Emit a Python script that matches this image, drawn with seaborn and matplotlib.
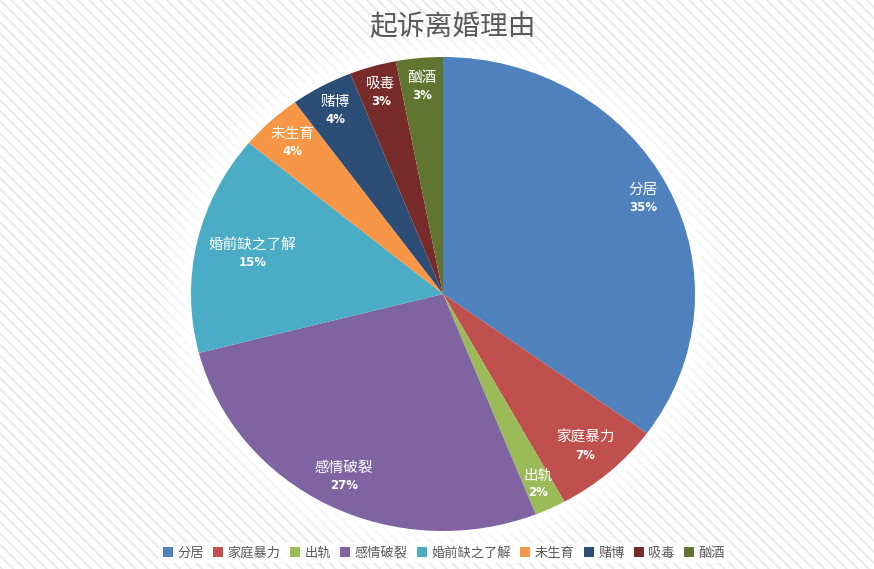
import matplotlib
matplotlib.use('Agg')
import matplotlib.pyplot as plt
import seaborn as sns
import numpy as np
from matplotlib.patches import Rectangle, Ellipse

categories = ['分居', '家庭暴力', '出轨', '感情破裂', '婚前缺之了解', '未生育', '赌博', '吸毒', '酗酒']
values = [35, 7, 2, 27, 15, 4, 4, 3, 3]
colors = ['#4F81BD', '#C0504D', '#9BBB59', '#8064A2', '#4BACC6', '#F79646', '#2C4D75', '#772C2A', '#5F7530']
label_r = [0.89, 0.855, 0.885, 0.865, 0.775, 0.875, 0.885, 0.885, 0.88]
title = '起诉离婚理由'

sns.set_theme(style='white')
plt.rcParams['font.family'] = ['Noto Sans CJK SC', 'DejaVu Sans']
plt.rcParams['hatch.linewidth'] = 1.6

W, H = 874, 569
fig = plt.figure(figsize=(W / 100, H / 100), dpi=100)
fig.patch.set_facecolor('white')
bg = Rectangle((0, 0), 1, 1, transform=fig.transFigure, facecolor='white',
               edgecolor='#ececec', hatch='\\\\\\', linewidth=0, zorder=-10)
fig.patches.append(bg)

cx, cy, rx, ry = 443, 294, 252, 237
ax = fig.add_axes([(cx - rx) / W, (H - cy - ry) / H, 2 * rx / W, 2 * ry / H])
ax.set_facecolor('none')

palette = sns.color_palette(colors)
wedges, _ = ax.pie(values, colors=palette, startangle=90, counterclock=False,
                   radius=1, wedgeprops=dict(linewidth=0))
ax.set_aspect('auto')
ax.set_xlim(-1, 1)
ax.set_ylim(-1, 1)
ax.axis('off')

# soft white halo around the pie
for k, a in zip([0.12, 0.09, 0.06, 0.035, 0.015], [0.25, 0.3, 0.35, 0.45, 0.6]):
    e = Ellipse((0, 0), 2 * (1 + k), 2 * (1 + k), facecolor='white', edgecolor='none',
                alpha=a, zorder=0, clip_on=False)
    ax.add_patch(e)
for w in wedges:
    w.set_zorder(2)

total = sum(values)
for w, r, name, v in zip(wedges, label_r, categories, values):
    th = np.deg2rad((w.theta1 + w.theta2) / 2)
    x, y = r * np.cos(th), r * np.sin(th)
    ax.annotate(name, (x, y), xytext=(0, 6), textcoords='offset points', ha='center',
                va='center', color='white', fontsize=10.5, zorder=5)
    ax.annotate(f'{round(v / total * 100)}%', (x, y), xytext=(0, -6.5), textcoords='offset points',
                ha='center', va='center', color='white', fontsize=8.5, fontweight='bold',
                family=['DejaVu Sans'], zorder=5)

fig.text(452 / W, 1 - 27 / H, title, ha='center', va='center', fontsize=20, color='#595959')

handles = [Rectangle((0, 0), 1, 1, facecolor=c, edgecolor='none') for c in palette]
leg = fig.legend(handles, categories, loc='center', bbox_to_anchor=(444 / W, 1 - 553 / H), ncol=9,
                 fontsize=9.5, frameon=True, handlelength=0.75, handleheight=0.75,
                 handletextpad=0.35, columnspacing=0.7, borderpad=0.3, labelcolor='#595959')
leg.get_frame().set_facecolor('white')
leg.get_frame().set_edgecolor('none')
leg.get_frame().set_alpha(0.85)

fig.savefig('out.png', dpi=100)
